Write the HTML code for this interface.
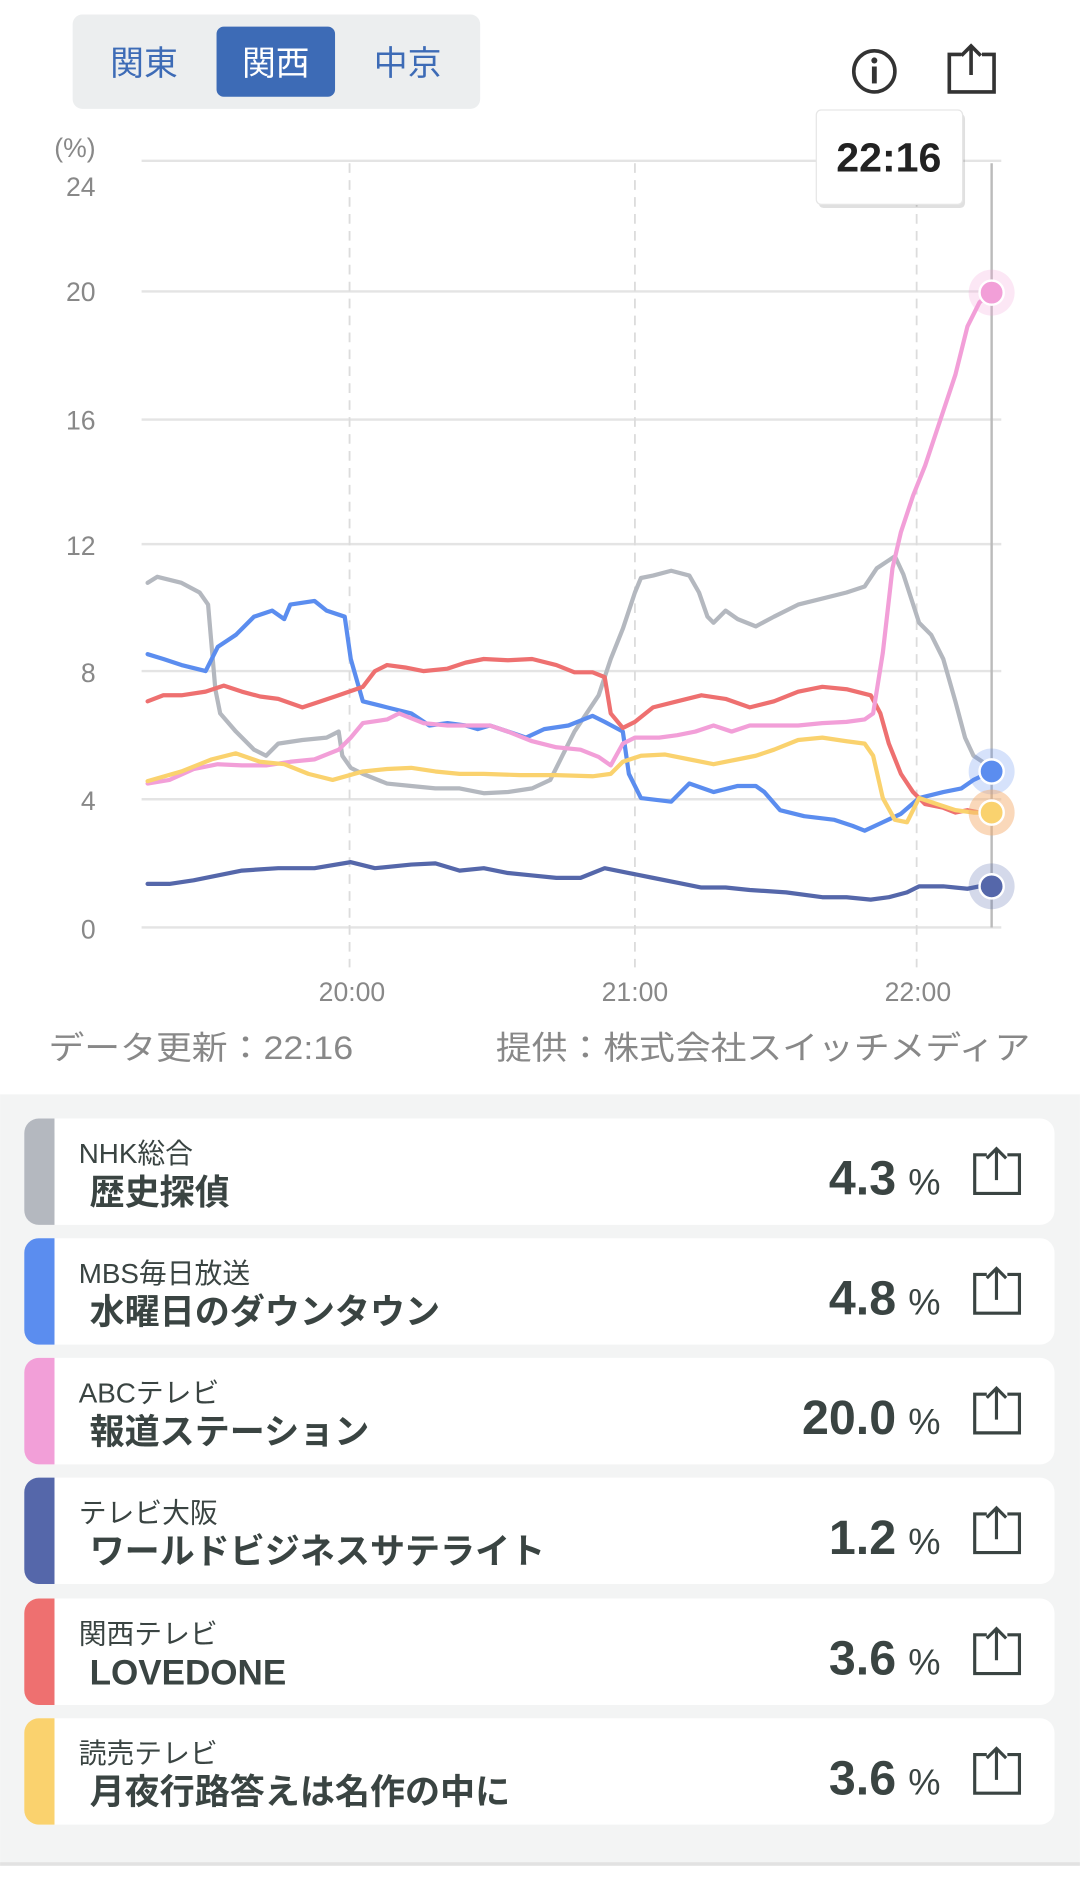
<!DOCTYPE html>
<html><head><meta charset="utf-8">
<style>
html,body{margin:0;padding:0;background:#fff;width:1080px;height:1896px;overflow:hidden}
svg{display:block}
text{font-family:"Liberation Sans","Noto Sans CJK JP",sans-serif}
</style></head><body>
<svg width="1080" height="1896" viewBox="0 0 893 1568" xmlns="http://www.w3.org/2000/svg">
<rect x="0" y="0" width="893" height="1568" fill="#fff"/>
<rect x="60" y="12" width="337" height="78" rx="8" fill="#eceeef"/>
<rect x="179" y="22" width="98" height="58" rx="6" fill="#3d6bb6"/>
<text x="119" y="62" font-size="28" fill="#3d6bb6" text-anchor="middle">関東</text>
<text x="228" y="62" font-size="28" fill="#fff" text-anchor="middle">関西</text>
<text x="337" y="62" font-size="28" fill="#3d6bb6" text-anchor="middle">中京</text>
<circle cx="723" cy="59" r="17" fill="none" stroke="#333" stroke-width="3"/>
<circle cx="723" cy="50" r="2.5" fill="#333"/>
<rect x="721" y="55" width="4" height="14" fill="#333"/>
<path d="M795 45 h-10 v31 h37 v-31 h-10" fill="none" stroke="#333" stroke-width="3"/>
<path d="M803 62 V38 M795 46 L803 38 L811 46" fill="none" stroke="#333" stroke-width="3"/>
<g stroke="#e4e4e4" stroke-width="2">
<line x1="117" y1="133" x2="828" y2="133"/>
<line x1="117" y1="241" x2="828" y2="241"/>
<line x1="117" y1="347" x2="828" y2="347"/>
<line x1="117" y1="450" x2="828" y2="450"/>
<line x1="117" y1="555" x2="828" y2="555"/>
<line x1="117" y1="661" x2="828" y2="661"/>
<line x1="117" y1="767" x2="828" y2="767"/>
</g>
<g stroke="#dcdcdc" stroke-width="1.5" stroke-dasharray="8,6">
<line x1="289" y1="135" x2="289" y2="800"/>
<line x1="525" y1="135" x2="525" y2="800"/>
<line x1="758" y1="135" x2="758" y2="800"/>
</g>
<line x1="820" y1="135" x2="820" y2="767" stroke="#bbb" stroke-width="2"/>
<g font-size="22" fill="#888" text-anchor="end">
<text x="79" y="130">(%)</text>
<text x="79" y="162">24</text>
<text x="79" y="249">20</text>
<text x="79" y="355">16</text>
<text x="79" y="459">12</text>
<text x="79" y="564">8</text>
<text x="79" y="670">4</text>
<text x="79" y="776">0</text>
</g>
<g font-size="22" fill="#888" text-anchor="middle">
<text x="291" y="828">20:00</text>
<text x="525" y="828">21:00</text>
<text x="759" y="828">22:00</text>
</g>
<g fill="none" stroke-width="3.5" stroke-linejoin="round" stroke-linecap="round">
<polyline stroke="#b4b8bf" points="122,482 130,477 150,482 165,490 172,500 178,570 182,590 195,605 210,620 220,625 230,615 250,612 270,610 280,605 283,625 290,635 300,640 320,648 340,650 360,652 380,652 400,656 420,655 440,652 455,645 465,625 475,605 485,590 495,575 505,545 515,520 525,490 530,478 540,476 555,472 570,476 578,490 585,510 590,515 600,505 610,512 625,518 640,510 660,500 680,495 700,490 715,485 725,470 740,460 747,475 760,515 770,525 780,545 790,580 798,610 805,625 820,635"/>
<polyline stroke="#5b8def" points="122,541 135,545 150,550 170,555 180,535 195,525 210,510 225,505 235,512 240,500 260,497 270,505 285,510 290,545 300,580 320,585 340,590 355,600 370,598 385,600 395,603 405,600 420,605 435,610 450,603 470,600 490,592 500,597 515,605 520,640 530,660 555,663 570,648 590,655 610,650 625,650 632,655 645,670 665,675 690,678 705,683 715,687 730,680 745,673 760,660 780,655 795,652 805,645 820,638"/>
<polyline stroke="#ee7070" points="122,580 135,575 150,575 170,572 185,567 200,572 215,576 230,578 250,585 265,580 280,575 300,568 310,555 320,550 335,552 350,555 370,553 385,548 400,545 420,546 440,545 460,550 475,556 490,556 500,560 505,590 515,602 525,597 540,585 560,580 580,575 600,578 620,585 640,580 660,572 680,568 700,570 720,575 728,590 735,615 745,640 755,655 765,665 780,668 790,672 800,670 810,672 820,672"/>
<polyline stroke="#f29fd8" points="122,648 140,645 160,636 180,632 200,633 220,633 240,630 260,628 280,620 290,610 300,598 320,595 330,590 350,598 370,600 390,600 405,600 420,605 440,613 460,618 480,620 495,626 505,633 515,615 525,610 545,610 560,608 575,605 590,600 605,605 620,600 640,600 660,600 680,598 700,597 715,595 722,590 730,540 738,470 745,440 755,410 765,385 775,355 790,310 800,270 810,250 820,242"/>
<polyline stroke="#fad26e" points="122,646 150,638 175,628 195,623 215,630 235,632 255,640 275,645 300,638 320,636 340,635 360,638 380,640 400,640 430,641 460,641 490,642 505,640 515,630 530,625 550,624 570,628 590,632 610,628 625,625 640,620 660,612 680,610 700,613 715,615 722,625 730,660 740,678 750,680 760,660 775,665 790,670 805,672 820,672"/>
<polyline stroke="#5567aa" points="122,731 140,731 160,728 180,724 200,720 230,718 260,718 290,713 310,718 340,715 360,714 380,720 400,718 420,722 440,724 460,726 480,726 500,718 520,722 540,726 560,730 580,734 600,734 620,736 650,738 680,742 700,742 720,744 735,742 750,738 760,733 780,733 800,735 820,731"/>
</g>
<circle cx="820" cy="242" r="19" fill="#f29fd8" opacity="0.25"/>
<circle cx="820" cy="242" r="10" fill="#f29fd8" stroke="#fff" stroke-width="2"/>
<circle cx="820" cy="638" r="19" fill="#5b8def" opacity="0.25"/>
<circle cx="820" cy="672" r="19" fill="#ee7070" opacity="0.25"/>
<circle cx="820" cy="672" r="19" fill="#fad26e" opacity="0.3"/>
<circle cx="820" cy="638" r="10" fill="#5b8def" stroke="#fff" stroke-width="2"/>
<circle cx="820" cy="672" r="10" fill="#fad26e" stroke="#fff" stroke-width="2"/>
<circle cx="820" cy="733" r="19" fill="#5567aa" opacity="0.25"/>
<circle cx="820" cy="733" r="10" fill="#5567aa" stroke="#fff" stroke-width="2"/>
<rect x="677" y="94" width="121" height="78" rx="4" fill="#000" opacity="0.12"/>
<rect x="675" y="91" width="121" height="78" rx="4" fill="#fff" stroke="#e6e6e6"/>
<text x="735" y="142" font-size="34" font-weight="bold" fill="#222" text-anchor="middle">22:16</text>
<text x="40" y="876" font-size="27" fill="#888" textLength="252" lengthAdjust="spacingAndGlyphs">データ更新：22:16</text>
<text x="410" y="876" font-size="27" fill="#888" textLength="442" lengthAdjust="spacingAndGlyphs">提供：株式会社スイッチメディア</text>
<rect x="0" y="905" width="893" height="635" fill="#f3f4f4"/>
<rect x="0" y="1540" width="893" height="3" fill="#e2e2e2"/>
<g>
<rect x="20" y="925" width="852" height="88" rx="12" fill="#fff"/>
<path d="M32 925 h13 v88 h-13 a12 12 0 0 1 -12 -12 v-64 a12 12 0 0 1 12 -12z" fill="#b4b8bf"/>
<rect x="20" y="1024" width="852" height="88" rx="12" fill="#fff"/>
<path d="M32 1024 h13 v88 h-13 a12 12 0 0 1 -12 -12 v-64 a12 12 0 0 1 12 -12z" fill="#5b8def"/>
<rect x="20" y="1123" width="852" height="88" rx="12" fill="#fff"/>
<path d="M32 1123 h13 v88 h-13 a12 12 0 0 1 -12 -12 v-64 a12 12 0 0 1 12 -12z" fill="#f29fd8"/>
<rect x="20" y="1222" width="852" height="88" rx="12" fill="#fff"/>
<path d="M32 1222 h13 v88 h-13 a12 12 0 0 1 -12 -12 v-64 a12 12 0 0 1 12 -12z" fill="#5567aa"/>
<rect x="20" y="1322" width="852" height="88" rx="12" fill="#fff"/>
<path d="M32 1322 h13 v88 h-13 a12 12 0 0 1 -12 -12 v-64 a12 12 0 0 1 12 -12z" fill="#ee7070"/>
<rect x="20" y="1421" width="852" height="88" rx="12" fill="#fff"/>
<path d="M32 1421 h13 v88 h-13 a12 12 0 0 1 -12 -12 v-64 a12 12 0 0 1 12 -12z" fill="#fad26e"/>
</g>
<g fill="#3a4442">
<g font-size="23">
<text x="65" y="962">NHK総合</text>
<text x="65" y="1061">MBS毎日放送</text>
<text x="65" y="1160">ABCテレビ</text>
<text x="65" y="1259">テレビ大阪</text>
<text x="65" y="1359">関西テレビ</text>
<text x="65" y="1458">読売テレビ</text>
</g>
<g font-size="29" font-weight="bold">
<text x="74" y="996">歴史探偵</text>
<text x="74" y="1095">水曜日のダウンタウン</text>
<text x="74" y="1194">報道ステーション</text>
<text x="74" y="1293">ワールドビジネスサテライト</text>
<text x="74" y="1393">LOVEDONE</text>
<text x="74" y="1492">月夜行路答えは名作の中に</text>
</g>
<g font-size="40" font-weight="bold" text-anchor="end">
<text x="741" y="988">4.3</text>
<text x="741" y="1087">4.8</text>
<text x="741" y="1186">20.0</text>
<text x="741" y="1285">1.2</text>
<text x="741" y="1385">3.6</text>
<text x="741" y="1484">3.6</text>
</g>
<g font-size="30">
<text x="751" y="988">%</text>
<text x="751" y="1087">%</text>
<text x="751" y="1186">%</text>
<text x="751" y="1285">%</text>
<text x="751" y="1385">%</text>
<text x="751" y="1484">%</text>
</g>
</g>
<g fill="none" stroke="#3a4442" stroke-width="2.6">
<g><path d="M816 955 h-10 v32 h37 v-32 h-10 M824 976 V950 M816 958 L824 950 L832 958"/></g>
<g transform="translate(0,99)"><path d="M816 955 h-10 v32 h37 v-32 h-10 M824 976 V950 M816 958 L824 950 L832 958"/></g>
<g transform="translate(0,198)"><path d="M816 955 h-10 v32 h37 v-32 h-10 M824 976 V950 M816 958 L824 950 L832 958"/></g>
<g transform="translate(0,297)"><path d="M816 955 h-10 v32 h37 v-32 h-10 M824 976 V950 M816 958 L824 950 L832 958"/></g>
<g transform="translate(0,397)"><path d="M816 955 h-10 v32 h37 v-32 h-10 M824 976 V950 M816 958 L824 950 L832 958"/></g>
<g transform="translate(0,496)"><path d="M816 955 h-10 v32 h37 v-32 h-10 M824 976 V950 M816 958 L824 950 L832 958"/></g>
</g>
</svg>
</body></html>
